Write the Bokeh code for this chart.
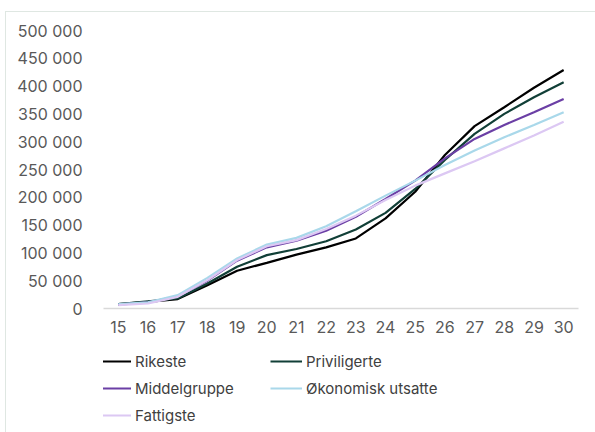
from bokeh.plotting import figure
from bokeh.models import Legend, LegendItem, FixedTicker
from bokeh.layouts import column
from bokeh.embed import file_html
from bokeh.resources import INLINE

ages = [15, 16, 17, 18, 19, 20, 21, 22, 23, 24, 25, 26, 27, 28, 29, 30]
rikeste = [8000, 12000, 17000, 42000, 68000, 82000, 97000, 110000, 126000, 162000, 210000, 276000, 328000, 362000, 397000, 429000]
priviligerte = [8000, 13000, 18000, 45000, 75000, 96000, 107000, 121000, 142000, 172000, 215000, 267000, 314000, 350000, 380000, 407000]
middelgruppe = [7000, 11000, 22000, 50000, 86000, 110000, 122000, 140000, 165000, 197000, 230000, 270000, 305000, 330000, 353000, 377000]
okonomisk = [8000, 11000, 24000, 55000, 90000, 115000, 127000, 148000, 175000, 203000, 230000, 258000, 284000, 308000, 330000, 353000]
fattigste = [6000, 9000, 21000, 51000, 87000, 112000, 123000, 143000, 167000, 195000, 221000, 243000, 265000, 288000, 311000, 336000]

names = ["Rikeste", "Priviligerte", "Middelgruppe", "Økonomisk utsatte", "Fattigste"]
series = [rikeste, priviligerte, middelgruppe, okonomisk, fattigste]
colors = ["#000000", "#113f37", "#6b3fa5", "#a9d8ea", "#dcc8f3"]

y_ticks = [0, 50000, 100000, 150000, 200000, 250000, 300000, 350000, 400000, 450000, 500000]
y_labels = ["0", "50 000", "100 000", "150 000", "200 000", "250 000", "300 000", "350 000", "400 000", "450 000", "500 000"]

FONT = "Inter"

p = figure(width=590, height=329, output_backend="svg", toolbar_location=None,
           x_range=(14.5, 30.5), y_range=(0, 500000),
           min_border_left=97, min_border_right=18, min_border_top=18, min_border_bottom=33)
p.outline_line_color = None
p.xgrid.grid_line_color = None
p.ygrid.grid_line_color = None

for name, vals, col in zip(names, series, colors):
    p.line(ages, vals, line_color=col, line_width=2.2)

xa = p.xaxis[0]
xa.ticker = FixedTicker(ticks=ages)
xa.axis_line_color = "#d9d9d9"
xa.axis_line_width = 1.5
xa.major_tick_line_color = None
xa.minor_tick_line_color = None
xa.major_label_text_font = FONT
xa.major_label_text_font_size = "16px"
xa.major_label_text_color = "#595959"
xa.major_label_standoff = 6

ya = p.yaxis[0]
ya.ticker = FixedTicker(ticks=y_ticks)
ya.major_label_overrides = {t: l for t, l in zip(y_ticks, y_labels)}
ya.axis_line_color = None
ya.major_tick_line_color = None
ya.minor_tick_line_color = None
ya.major_label_text_font = FONT
ya.major_label_text_font_size = "16px"
ya.major_label_text_color = "#595959"
ya.major_label_standoff = 15

# legend panel: the same series drawn outside the visible range, used only as legend swatches
lf = figure(width=590, height=92, output_backend="svg", toolbar_location=None,
            x_range=(0, 1), y_range=(0, 1),
            min_border_left=0, min_border_right=0, min_border_top=0, min_border_bottom=0)
lf.axis.visible = False
lf.grid.visible = False
lf.outline_line_color = None

items = []
for name, vals, col in zip(names, series, colors):
    r = lf.line(ages, vals, line_color=col, line_width=2.2)
    items.append(LegendItem(label=name, renderers=[r]))

legend = Legend(items=items, ncols=2, location=(-4, 8), orientation="horizontal")
legend.border_line_color = None
legend.background_fill_alpha = 0
legend.label_text_font = FONT
legend.label_text_font_size = "15px"
legend.label_text_color = "#404040"
legend.glyph_width = 32
legend.glyph_height = 20
legend.label_height = 20
legend.label_standoff = 4
legend.label_width = 128
legend.spacing = 7
legend.padding = 0
legend.margin = 0
lf.add_layout(legend, "center")

layout = column(p, lf, spacing=0, margin=(11, 0, 0, 5),
                styles={"border-top": "1.5px solid #dfe7e2", "border-left": "1.5px solid #dfe7e2"})

open("out.html", "w").write(file_html(layout, INLINE))
